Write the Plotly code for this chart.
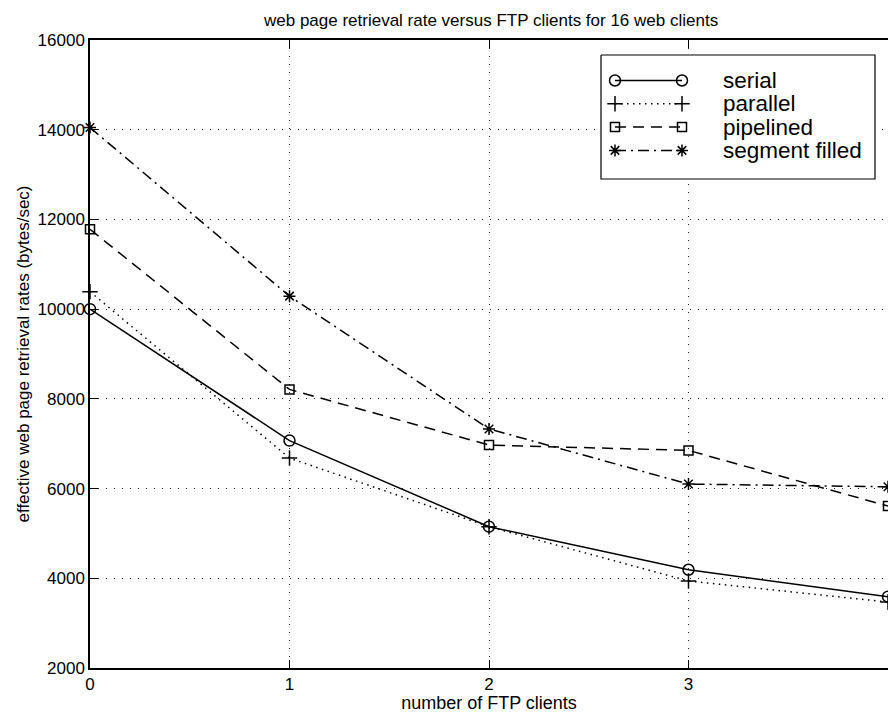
import plotly.graph_objects as go

ftp_clients = [0, 1, 2, 3, 4]
serial = [10000, 7070, 5150, 4190, 3590]
parallel = [10390, 6680, 5150, 3940, 3470]
pipelined = [11780, 8210, 6970, 6850, 5610]
segment_filled = [14050, 10290, 7330, 6100, 6040]

series_names = ["serial", "parallel", "pipelined", "segment filled"]
x_ticks = [0, 1, 2, 3, 4]
y_ticks = [2000, 4000, 6000, 8000, 10000, 12000, 14000, 16000]

FONT = "Liberation Sans, Arial, Helvetica, sans-serif"

styles = [
    dict(dash="solid", symbol="circle-open", size=11),
    dict(dash="1.5px,4.5px", symbol="cross-thin-open", size=11),
    dict(dash="11px,7px", symbol="square-open", size=9),
    dict(dash="11px,5px,2px,5px", symbol="asterisk-open", size=10),
]

# plot area in pixels; a pixel-space overlay subplot (x3/y3) holds the boxed legend
L, R, T, B = 90, 888, 40, 668

fig = go.Figure()
for name, ys, st in zip(series_names, [serial, parallel, pipelined, segment_filled], styles):
    fig.add_trace(go.Scatter(
        x=ftp_clients, y=ys, name=name, mode="lines+markers", showlegend=False,
        line=dict(color="black", width=1.5, dash=st["dash"]),
        marker=dict(symbol=st["symbol"], size=st["size"], color="black",
                    line=dict(color="black", width=1.5)),
        cliponaxis=False,
    ))

# top border with inside ticks, as in the reference box
fig.add_trace(go.Scatter(x=[None], y=[None], xaxis="x2", showlegend=False))

# ---- boxed legend (MATLAB style: marker at both ends of the line sample) ----
leg_x0, leg_x1, leg_y0, leg_y1 = 601, 875, 55, 179
leg_row0, leg_row_step = 80.5, 23.3
leg_line_x = [615, 682]
leg_text_x = 721

fig.add_trace(go.Scatter(
    x=[leg_x0, leg_x1, leg_x1, leg_x0, leg_x0],
    y=[leg_y0, leg_y0, leg_y1, leg_y1, leg_y0],
    xaxis="x3", yaxis="y3", mode="lines", fill="toself", fillcolor="white",
    line=dict(color="black", width=1.2), showlegend=False, hoverinfo="skip",
))
annotations = []
for i, (name, st) in enumerate(zip(series_names, styles)):
    yy = leg_row0 + i * leg_row_step
    fig.add_trace(go.Scatter(
        x=leg_line_x, y=[yy, yy], xaxis="x3", yaxis="y3", mode="lines+markers",
        showlegend=False, hoverinfo="skip",
        line=dict(color="black", width=1.5, dash=st["dash"]),
        marker=dict(symbol=st["symbol"], size=st["size"], color="black",
                    line=dict(color="black", width=1.5)),
    ))
    annotations.append(dict(xref="x3", yref="y3", x=leg_text_x, y=yy, text=name,
                            showarrow=False, xanchor="left", yanchor="middle",
                            font=dict(size=22.5, family=FONT, color="black")))

axis_common = dict(
    showgrid=True, gridcolor="#222", griddash="1px,7px", gridwidth=1,
    showline=True, linecolor="black", linewidth=1.5, mirror=False,
    ticks="inside", ticklen=8, tickcolor="black", tickwidth=1,
    zeroline=False, tickfont=dict(size=17, family=FONT),
)

fig.update_layout(
    width=888, height=713,
    margin=dict(l=L, r=888 - R, t=T, b=713 - B),
    paper_bgcolor="white", plot_bgcolor="white",
    font=dict(family=FONT, color="black", size=16),
    title=dict(text="web page retrieval rate versus FTP clients for 16 web clients",
               x=0.553, xanchor="center", y=1 - 20 / 713, yanchor="middle",
               font=dict(size=17, family=FONT, color="black")),
    showlegend=False,
    annotations=annotations,
    xaxis=dict(
        range=[0, 4], tickvals=x_ticks, ticktext=[str(v) for v in x_ticks],
        title=dict(text="number of FTP clients", font=dict(size=18, family=FONT), standoff=3),
        **axis_common,
    ),
    yaxis=dict(
        range=[2000, 16000], tickvals=y_ticks, ticktext=[str(v) for v in y_ticks],
        title=dict(text="effective web page retrieval rates (bytes/sec)",
                   font=dict(size=17, family=FONT), standoff=4),
        **axis_common,
    ),
    xaxis2=dict(
        overlaying="x", side="top", range=[0, 4], tickvals=x_ticks, showticklabels=False,
        showline=True, linecolor="black", linewidth=1.5, ticks="inside", ticklen=8,
        tickcolor="black", showgrid=False, zeroline=False,
    ),
    xaxis3=dict(overlaying="x", range=[L, R], visible=False, showgrid=False, zeroline=False),
    yaxis3=dict(overlaying="y", range=[B, T], visible=False, showgrid=False, zeroline=False),
)

fig.write_html("out.html")
